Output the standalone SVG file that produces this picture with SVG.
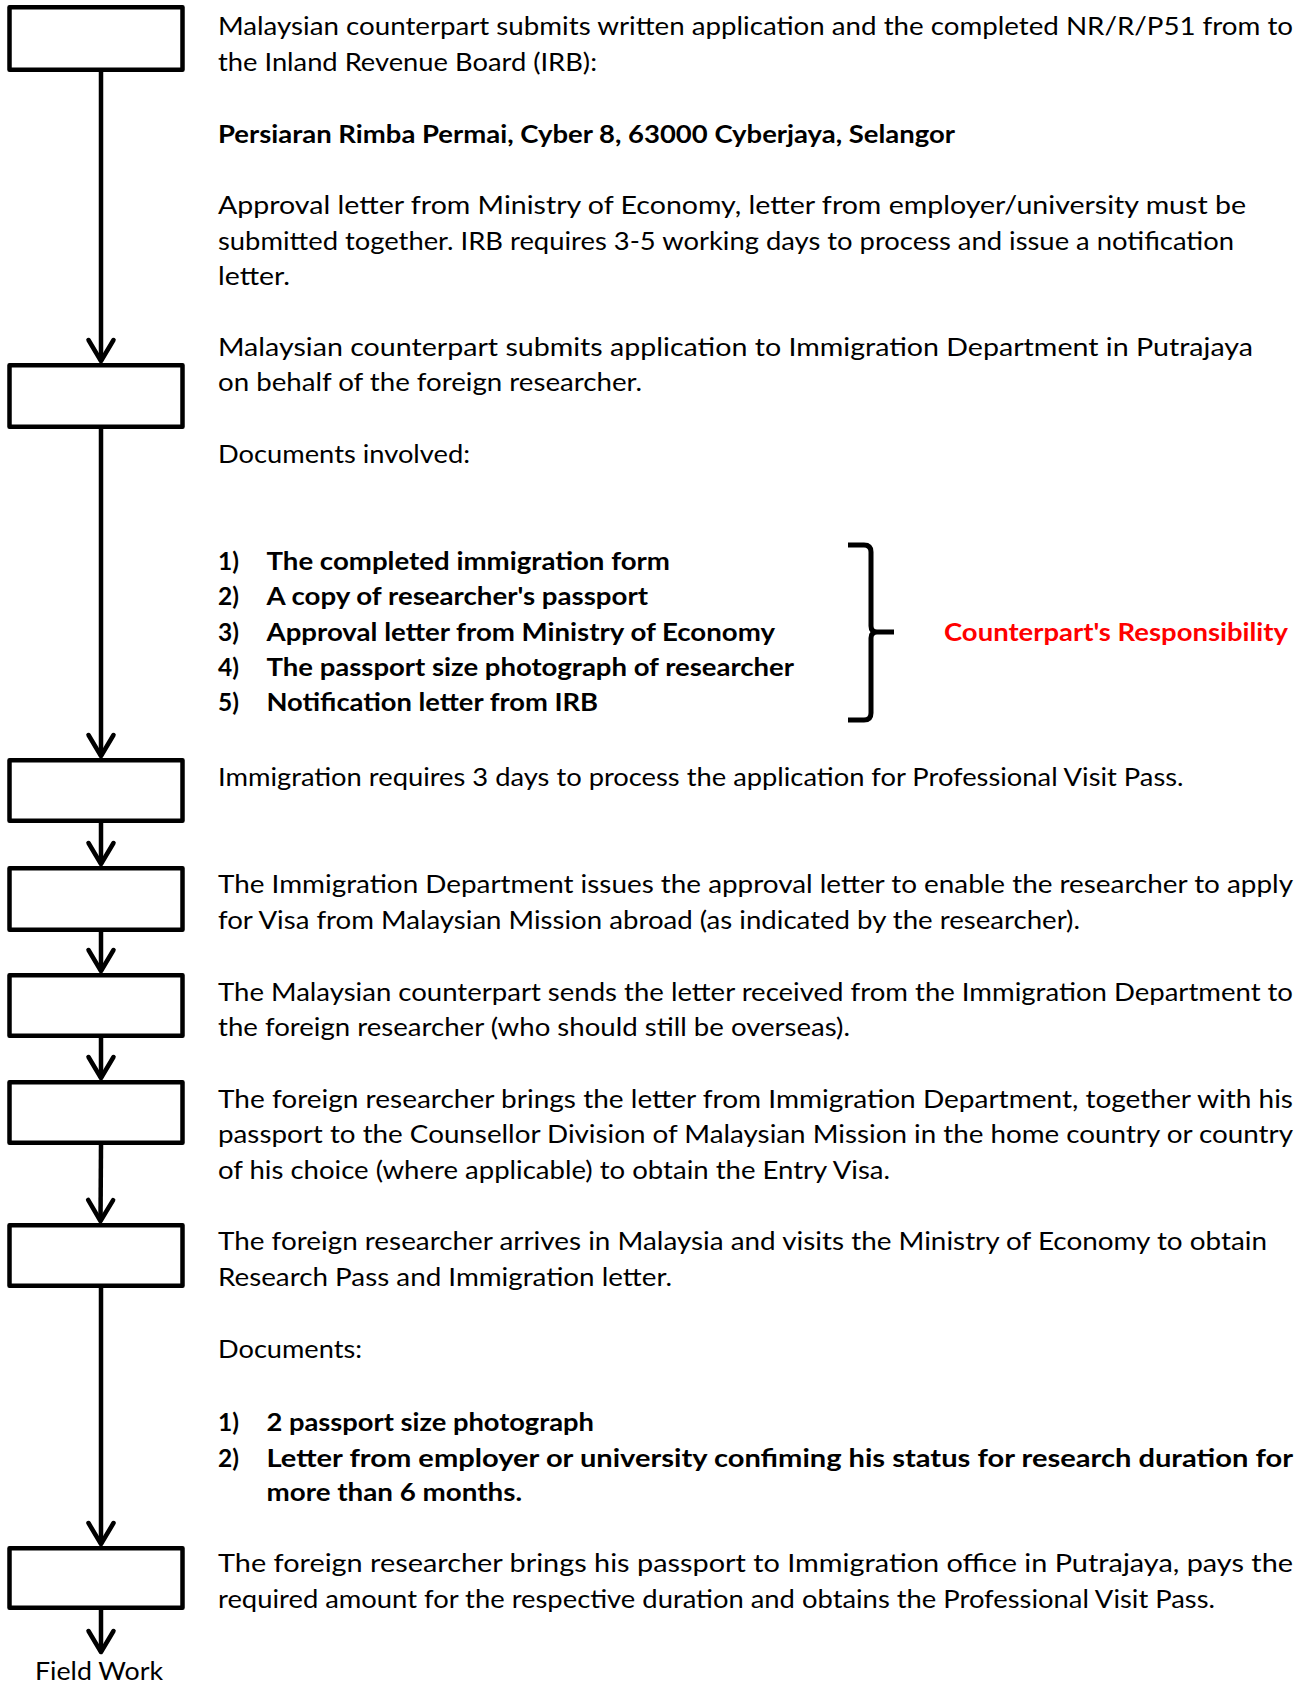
<svg xmlns="http://www.w3.org/2000/svg" width="1307" height="1684" viewBox="0 0 1307 1684">
<style>
  .box { fill: #ffffff; stroke: #000000; stroke-width: 4.5; stroke-linejoin: round; }
  .conn { fill: none; stroke: #000000; stroke-width: 4.5; }
  .t { font-family: Lato, "Open Sans", "Liberation Sans", sans-serif; font-size: 24.5px; fill: #000000; }
  .b { font-weight: bold; }
  .red { fill: #ff0000; font-weight: bold; }
  .brace { fill: none; stroke: #000000; stroke-width: 5; stroke-linejoin: round; stroke-linecap: butt; }
</style>
<defs>
  <marker id="arrow" markerUnits="userSpaceOnUse" viewBox="-26 -16 30 32" refX="0" refY="0" markerWidth="30" markerHeight="32" orient="auto" overflow="visible">
    <path d="M-21,-12.5 L0,0 L-21,12.5" fill="none" stroke="#000000" stroke-width="4.5" stroke-linejoin="round" stroke-linecap="round"/>
  </marker>
</defs>
<rect width="1307" height="1684" fill="#ffffff"/>

<g id="connectors">
  <path class="conn" d="M101,72 L101,361" marker-end="url(#arrow)"/>
  <path class="conn" d="M101,429 L101,756" marker-end="url(#arrow)"/>
  <path class="conn" d="M101,823 L101,864" marker-end="url(#arrow)"/>
  <path class="conn" d="M101,932 L101,971" marker-end="url(#arrow)"/>
  <path class="conn" d="M101,1038 L101,1078" marker-end="url(#arrow)"/>
  <path class="conn" d="M101,1145 L100.5,1221" marker-end="url(#arrow)"/>
  <path class="conn" d="M101,1288 L101,1544" marker-end="url(#arrow)"/>
  <path class="conn" d="M101,1610 L101,1652" marker-end="url(#arrow)"/>
</g>

<g id="node1"><rect class="box" x="9.5" y="7.25" width="173" height="62.5"/></g>
<g id="node2"><rect class="box" x="9.5" y="365.25" width="173" height="61.5"/></g>
<g id="node3"><rect class="box" x="9.5" y="760.25" width="173" height="60.5"/></g>
<g id="node4"><rect class="box" x="9.5" y="868.25" width="173" height="61.5"/></g>
<g id="node5"><rect class="box" x="9.5" y="975.25" width="173" height="60.5"/></g>
<g id="node6"><rect class="box" x="9.5" y="1082.25" width="173" height="60.5"/></g>
<g id="node7"><rect class="box" x="9.5" y="1225.25" width="173" height="60.5"/></g>
<g id="node8"><rect class="box" x="9.5" y="1548.25" width="173" height="59.5"/></g>
<g id="fieldwork"><text class="t" x="35" y="1680" textLength="128" lengthAdjust="spacingAndGlyphs">Field Work</text></g>

<g id="step1-text">
  <text class="t" x="218" y="35" textLength="1075" lengthAdjust="spacingAndGlyphs">Malaysian counterpart submits written application and the completed NR/R/P51 from to</text>
  <text class="t" x="218" y="70.5" textLength="379" lengthAdjust="spacingAndGlyphs">the Inland Revenue Board (IRB):</text>
  <text class="t b" x="218" y="142.5" textLength="737" lengthAdjust="spacingAndGlyphs">Persiaran Rimba Permai, Cyber 8, 63000 Cyberjaya, Selangor</text>
  <text class="t" x="218" y="214.3" textLength="1028" lengthAdjust="spacingAndGlyphs">Approval letter from Ministry of Economy, letter from employer/university must be</text>
  <text class="t" x="218" y="249.7" textLength="1016" lengthAdjust="spacingAndGlyphs">submitted together. IRB requires 3-5 working days to process and issue a notification</text>
  <text class="t" x="218" y="285" textLength="72" lengthAdjust="spacingAndGlyphs">letter.</text>
</g>

<g id="step2-text">
  <text class="t" x="218" y="356" textLength="1035" lengthAdjust="spacingAndGlyphs">Malaysian counterpart submits application to Immigration Department in Putrajaya</text>
  <text class="t" x="218" y="391.3" textLength="424" lengthAdjust="spacingAndGlyphs">on behalf of the foreign researcher.</text>
  <text class="t" x="218" y="463.2" textLength="252" lengthAdjust="spacingAndGlyphs">Documents involved:</text>
  <text class="t b" x="218" y="570">1)</text>
  <text class="t b" x="266.5" y="570" textLength="403.5" lengthAdjust="spacingAndGlyphs">The completed immigration form</text>
  <text class="t b" x="218" y="605">2)</text>
  <text class="t b" x="266.5" y="605" textLength="381.5" lengthAdjust="spacingAndGlyphs">A copy of researcher's passport</text>
  <text class="t b" x="218" y="640.7">3)</text>
  <text class="t b" x="266.5" y="640.7" textLength="508.5" lengthAdjust="spacingAndGlyphs">Approval letter from Ministry of Economy</text>
  <text class="t b" x="218" y="676">4)</text>
  <text class="t b" x="266.5" y="676" textLength="527.5" lengthAdjust="spacingAndGlyphs">The passport size photograph of researcher</text>
  <text class="t b" x="218" y="711.2">5)</text>
  <text class="t b" x="266.5" y="711.2" textLength="331.5" lengthAdjust="spacingAndGlyphs">Notification letter from IRB</text>
</g>

<g id="responsibility">
  <path class="brace" d="M848,545 H864 Q871,545 871,552 V626 Q871,632 877,632 H894 M877,632 Q871,632 871,638 V713 Q871,720 864,720 H848"/>
  <text class="t red" x="944" y="640.7" textLength="344" lengthAdjust="spacingAndGlyphs">Counterpart's Responsibility</text>
</g>

<g id="step3-text">
  <text class="t" x="218" y="786" textLength="965.5" lengthAdjust="spacingAndGlyphs">Immigration requires 3 days to process the application for Professional Visit Pass.</text>
</g>

<g id="step4-text">
  <text class="t" x="218" y="893.2" textLength="1075" lengthAdjust="spacingAndGlyphs">The Immigration Department issues the approval letter to enable the researcher to apply</text>
  <text class="t" x="218" y="928.6" textLength="862" lengthAdjust="spacingAndGlyphs">for Visa from Malaysian Mission abroad (as indicated by the researcher).</text>
</g>

<g id="step5-text">
  <text class="t" x="218" y="1000.5" textLength="1075" lengthAdjust="spacingAndGlyphs">The Malaysian counterpart sends the letter received from the Immigration Department to</text>
  <text class="t" x="218" y="1036" textLength="632" lengthAdjust="spacingAndGlyphs">the foreign researcher (who should still be overseas).</text>
</g>

<g id="step6-text">
  <text class="t" x="218" y="1107.7" textLength="1075" lengthAdjust="spacingAndGlyphs">The foreign researcher brings the letter from Immigration Department, together with his</text>
  <text class="t" x="218" y="1143.1" textLength="1075" lengthAdjust="spacingAndGlyphs">passport to the Counsellor Division of Malaysian Mission in the home country or country</text>
  <text class="t" x="218" y="1178.5" textLength="672" lengthAdjust="spacingAndGlyphs">of his choice (where applicable) to obtain the Entry Visa.</text>
</g>

<g id="step7-text">
  <text class="t" x="218" y="1250.4" textLength="1049" lengthAdjust="spacingAndGlyphs">The foreign researcher arrives in Malaysia and visits the Ministry of Economy to obtain</text>
  <text class="t" x="218" y="1285.8" textLength="454" lengthAdjust="spacingAndGlyphs">Research Pass and Immigration letter.</text>
  <text class="t" x="218" y="1357.6" textLength="144" lengthAdjust="spacingAndGlyphs">Documents:</text>
  <text class="t b" x="218" y="1431">1)</text>
  <text class="t b" x="266.5" y="1431" textLength="327.5" lengthAdjust="spacingAndGlyphs">2 passport size photograph</text>
  <text class="t b" x="218" y="1466.5">2)</text>
  <text class="t b" x="266.5" y="1466.5" textLength="1026.5" lengthAdjust="spacingAndGlyphs">Letter from employer or university confiming his status for research duration for</text>
  <text class="t b" x="266.5" y="1501" textLength="255.5" lengthAdjust="spacingAndGlyphs">more than 6 months.</text>
</g>

<g id="step8-text">
  <text class="t" x="218" y="1572.1" textLength="1075" lengthAdjust="spacingAndGlyphs">The foreign researcher brings his passport to Immigration office in Putrajaya, pays the</text>
  <text class="t" x="218" y="1607.5" textLength="997" lengthAdjust="spacingAndGlyphs">required amount for the respective duration and obtains the Professional Visit Pass.</text>
</g>
</svg>
